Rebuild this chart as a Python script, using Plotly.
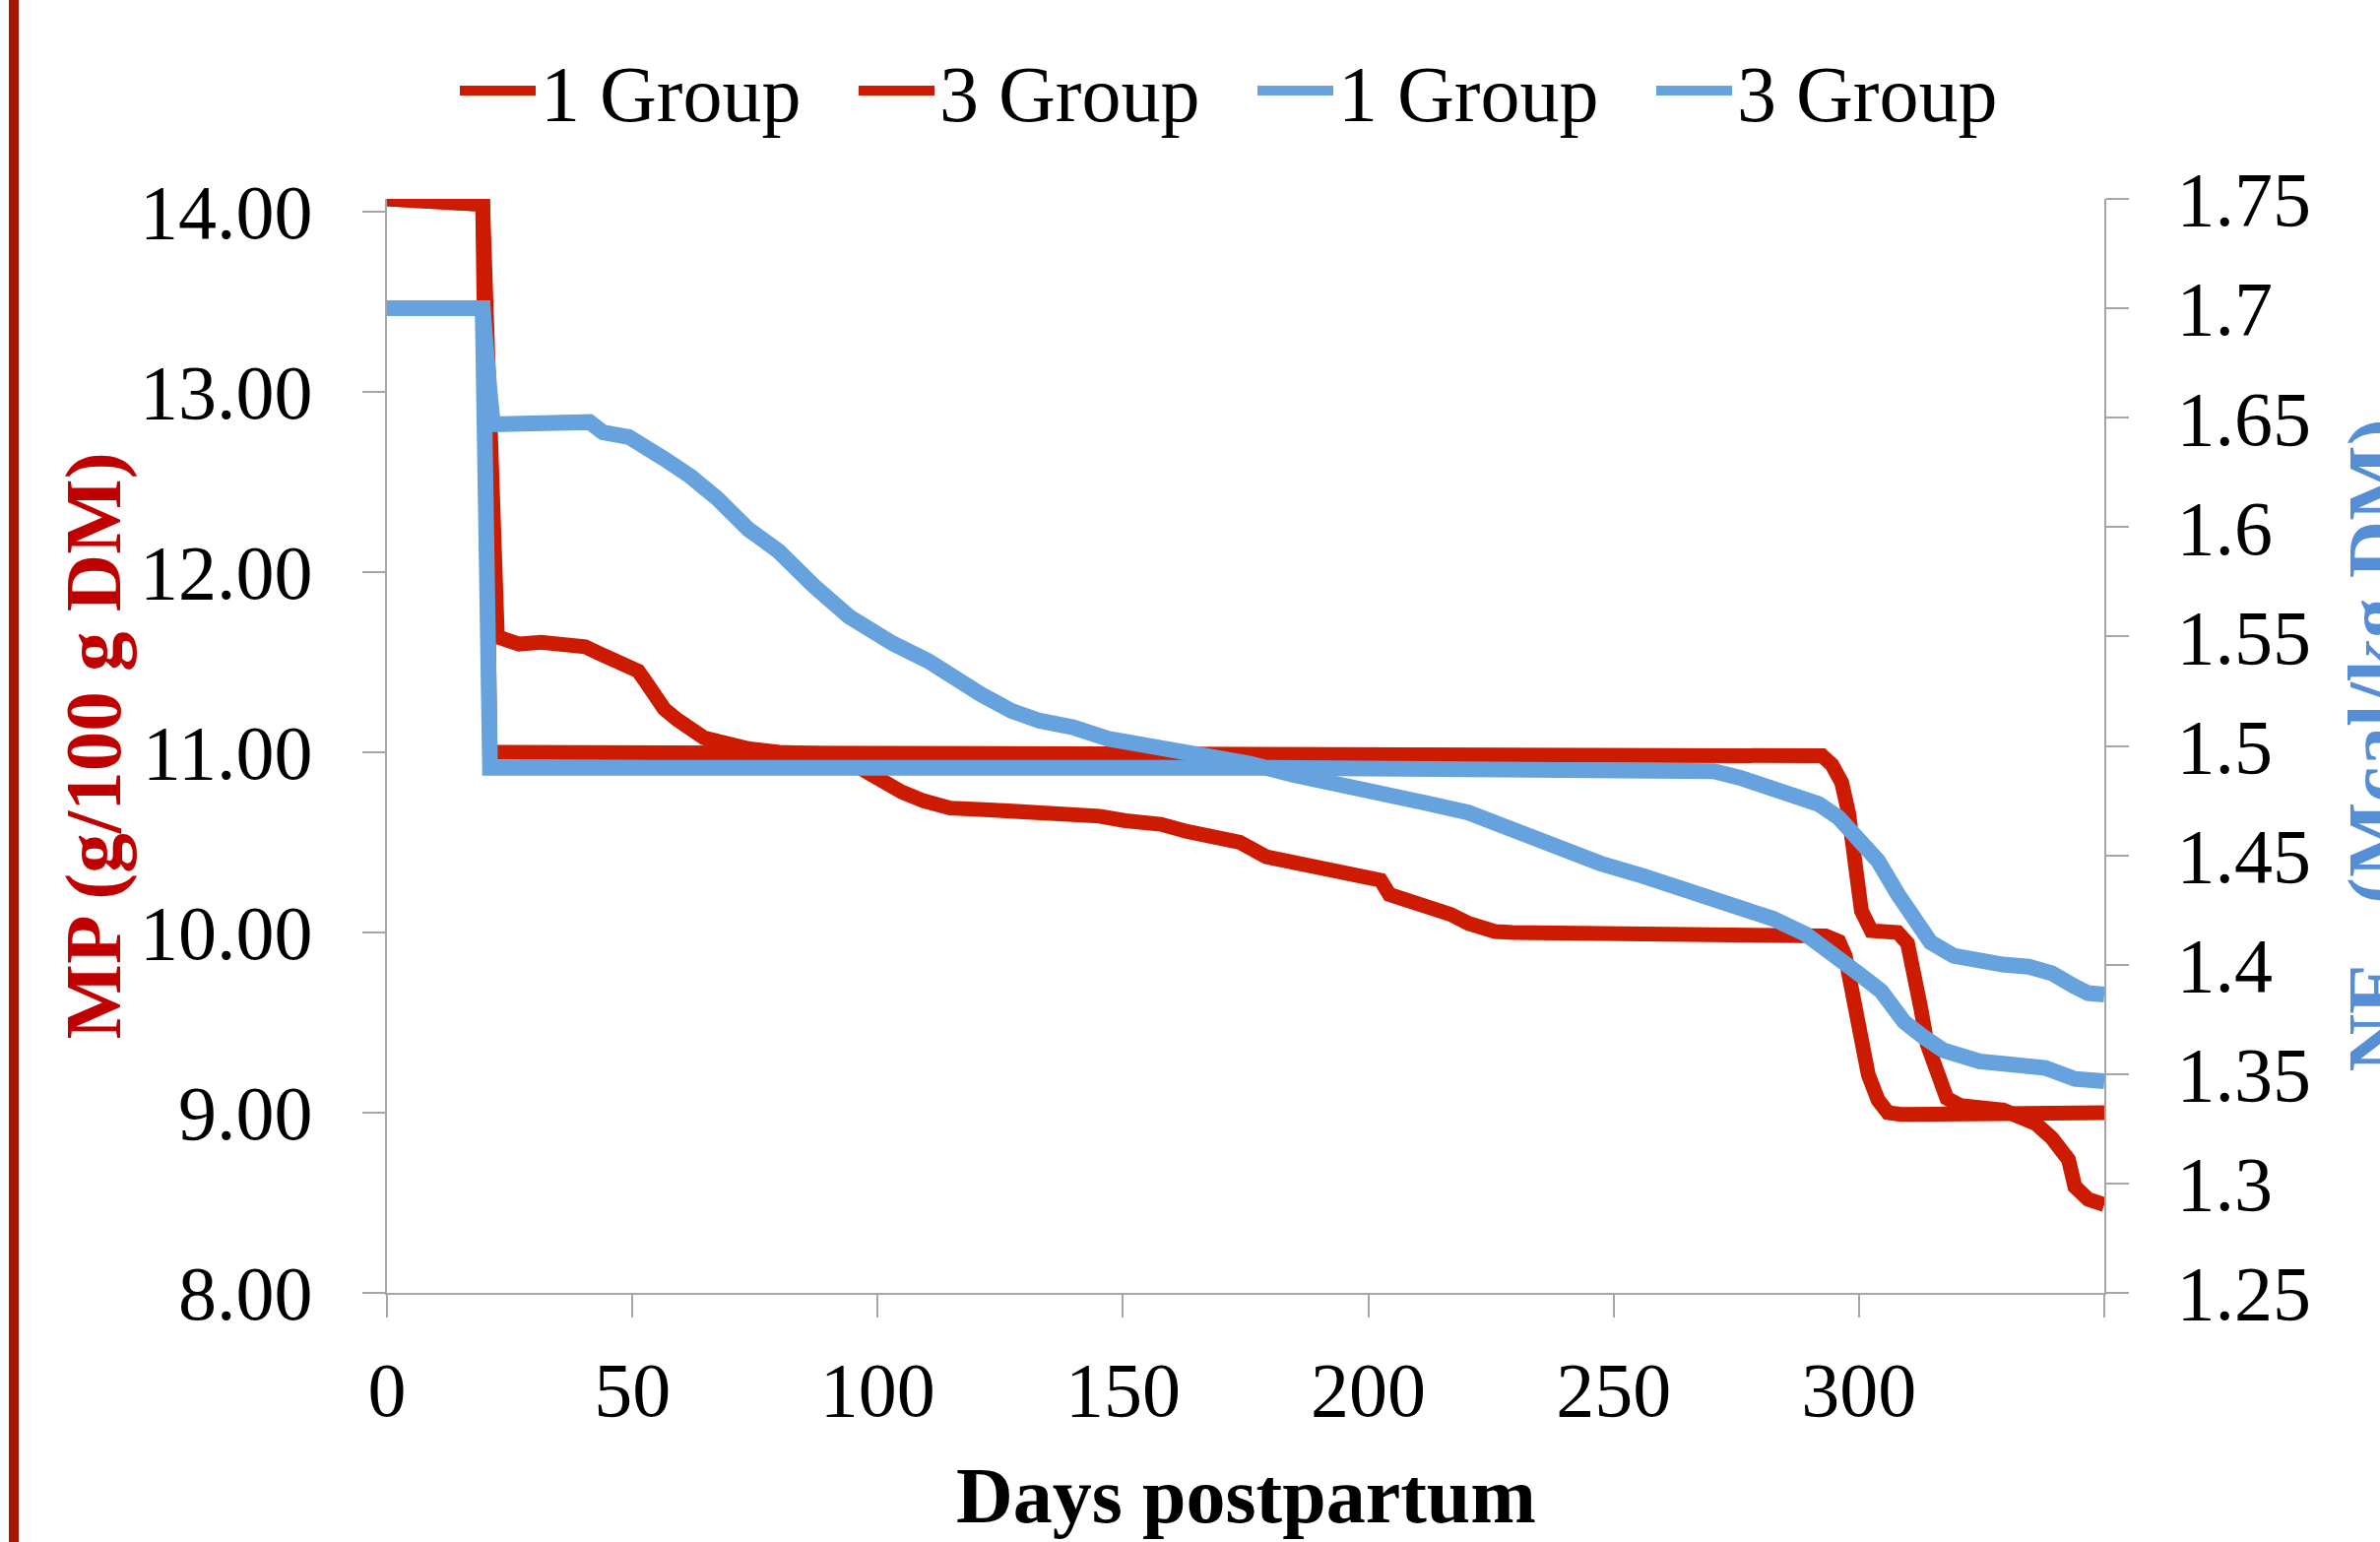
import plotly.graph_objects as go

# ---------------- data ----------------
days_mp_1 = [0, 5, 10, 15, 19.5, 21.0, 40, 80, 120, 160, 200, 240, 280, 290.5, 292.5, 294.5,
             296.5, 297.9, 298.9, 299.5, 300.5, 302.5, 307.9, 309.9, 311.2, 312.6, 313.9, 315.9,
             317.9, 320.6, 329.3, 336.0, 339.3, 342.7, 344.0, 346.7, 350]
mp_1 = [14.07, 14.06, 14.06, 14.05, 14.04, 11.0, 11.0, 11.0, 11.0, 11.0, 11.0, 11.0, 11.0, 11.0,
        10.98, 10.93, 10.83, 10.66, 10.46, 10.27, 10.12, 10.01, 10.0, 9.94, 9.80, 9.58, 9.38, 9.21,
        9.08, 9.04, 9.015, 8.94, 8.86, 8.74, 8.59, 8.52, 8.49]

days_mp_3 = [0, 5, 10, 15, 19.5, 22.5, 26.9, 31.4, 35.9, 40.4, 43.1, 45.8, 48.5, 51.2, 52.9, 54.7,
             56.5, 59.2, 61.9, 64.6, 69.1, 73.6, 80, 90, 95.9, 100.4, 104.9, 109.4, 114.8, 122.8,
             137.9, 145.2, 150.5, 157.7, 163.1, 168.4, 173.8, 179.2, 186.4, 193.5, 198.9, 202.5,
             204.3, 207.9, 211.5, 216.8, 220.4, 225.8, 229.4, 260, 291.2, 293.2, 295.9, 297.2,
             298.2, 299.2, 300.5, 301.9, 303.9, 305.9, 308.6, 330, 350]
mp_3 = [14.07, 14.06, 14.06, 14.05, 14.04, 11.64, 11.60, 11.61, 11.595, 11.585, 11.55, 11.52, 11.48,
        11.45, 11.385, 11.31, 11.24, 11.18, 11.13, 11.08, 11.05, 11.02, 11.0, 10.99, 10.92, 10.84,
        10.78, 10.73, 10.69, 10.68, 10.67, 10.645, 10.62, 10.60, 10.56, 10.535, 10.50, 10.42, 10.38,
        10.34, 10.32, 10.29, 10.21, 10.18, 10.14, 10.10, 10.05, 10.005, 10.0, 10.0, 10.0, 9.98, 9.95,
        9.87, 9.73, 9.56, 9.36, 9.21, 9.07, 9.0, 8.99, 9.0, 9.0]

days_ne_1 = [0, 19.5, 21.0, 60, 100, 140, 180, 220, 262.4, 270.4, 275.8, 281.1, 287.8, 291.8, 295.8,
             299.9, 303.9, 307.9, 310.6, 314.6, 319.3, 324.6, 329.3, 334.6, 339.3, 344.0, 346.7, 350]
ne_1 = [1.70, 1.70, 1.49, 1.4905, 1.4905, 1.490, 1.490, 1.4895, 1.4894, 1.4884, 1.4854, 1.4814,
        1.4774, 1.4734, 1.4673, 1.4583, 1.4474, 1.4323, 1.4222, 1.4102, 1.4041, 1.4011, 1.4001,
        1.3991, 1.3961, 1.3900, 1.3870, 1.3864]

days_ne_3 = [0, 19.5, 21.0, 21.6, 41.3, 44.0, 49.3, 52.9, 56.5, 61.9, 67.3, 73.6, 79.8, 87.0, 94.2,
             103.1, 110.3, 121.1, 127.3, 133, 139.8, 146.9, 155.9, 164.9, 175.6, 184.6, 193.5,
             202.5, 211.5, 220.4, 229.4, 238.4, 247.3, 256.3, 262.4, 269.1, 275.8, 282.5, 289.1,
             294.5, 299.9, 304.5, 309.2, 313.2, 317.2, 324.6, 332.6, 338.0, 344.0, 350]
ne_3 = [1.70, 1.70, 1.66, 1.647, 1.648, 1.6433, 1.6412, 1.6372, 1.6312, 1.6231, 1.6131, 1.5991,
        1.5890, 1.5731, 1.5590, 1.5468, 1.5388, 1.5235, 1.5160, 1.5115, 1.5085, 1.5033, 1.5003,
        1.4973, 1.4920, 1.4868, 1.4830, 1.4793, 1.4740, 1.4695, 1.4613, 1.4530, 1.4463, 1.4403,
        1.4360, 1.4321, 1.4271, 1.4210, 1.4140, 1.4060, 1.3960, 1.3880, 1.3739, 1.3669, 1.3609,
        1.3558, 1.3548, 1.3528, 1.3478, 1.3468]

series_names = ["1 Group", "3 Group", "1 Group", "3 Group"]

x_tickvals = [0, 50, 100, 150, 200, 250, 300, 350]
x_ticktext = ["0", "50", "100", "150", "200", "250", "300", ""]
y1_tickvals = [8, 9, 10, 11, 12, 13, 14]
y1_ticktext = ["8.00", "9.00", "10.00", "11.00", "12.00", "13.00", "14.00"]
y2_tickvals = [1.25, 1.3, 1.35, 1.4, 1.45, 1.5, 1.55, 1.6, 1.65, 1.7, 1.75]
y2_ticktext = ["1.25", "1.3", "1.35", "1.4", "1.45", "1.5", "1.55", "1.6", "1.65", "1.7", "1.75"]

# ---------------- style ----------------
RED = "#CC1B00"
BLUE = "#66A2DD"
GRAY = "#A6A6A6"
FONT = "Liberation Serif"
W, H = 2417, 1566
L, R, T, B = 393, 280, 202, 253
PW = W - L - R
PH = H - T - B


def px_x(p):
    return (p - L) / PW


def px_y(p):
    return (H - B - p) / PH


fig = go.Figure()
fig.add_trace(go.Scatter(x=days_mp_1, y=mp_1, name=series_names[0], mode="lines",
                         line=dict(color=RED, width=15)))
fig.add_trace(go.Scatter(x=days_mp_3, y=mp_3, name=series_names[1], mode="lines",
                         line=dict(color=RED, width=15)))
fig.add_trace(go.Scatter(x=days_ne_1, y=ne_1, name=series_names[2], mode="lines", yaxis="y2",
                         line=dict(color=BLUE, width=16)))
fig.add_trace(go.Scatter(x=days_ne_3, y=ne_3, name=series_names[3], mode="lines", yaxis="y2",
                         line=dict(color=BLUE, width=16)))

axis_common = dict(showgrid=False, zeroline=False, showline=True, linecolor=GRAY, linewidth=2,
                   ticks="outside", ticklen=23, tickwidth=2, tickcolor=GRAY,
                   tickfont=dict(family=FONT, size=78, color="black"))

fig.update_layout(
    width=W, height=H,
    margin=dict(l=L, r=R, t=T, b=B, autoexpand=False),
    paper_bgcolor="white", plot_bgcolor="white",
    xaxis=dict(range=[0, 350], tickmode="array", tickvals=x_tickvals, ticktext=x_ticktext,
               ticklabelstandoff=6, **axis_common),
    yaxis=dict(range=[8, 14.07], tickmode="array", tickvals=y1_tickvals, ticktext=y1_ticktext,
               ticklabelstandoff=35, **axis_common),
    yaxis2=dict(range=[1.25, 1.75], overlaying="y", side="right", tickmode="array",
                tickvals=y2_tickvals, ticktext=y2_ticktext, ticklabelstandoff=33, **axis_common),
    showlegend=True,
    legend=dict(orientation="h", x=px_x(462), xanchor="left", y=px_y(92), yanchor="middle",
                font=dict(family=FONT, size=80, color="black"), itemwidth=77,
                entrywidth=313, bgcolor="rgba(0,0,0,0)"),
    annotations=[
        dict(text="<b>Days postpartum</b>", xref="paper", yref="paper", x=0.5, y=px_y(1519),
             xanchor="center", yanchor="middle", showarrow=False,
             font=dict(family=FONT, size=80, color="black")),
        dict(text="<b>MP (g/100 g DM)</b>", xref="paper", yref="paper", x=px_x(94), y=0.5,
             xanchor="center", yanchor="middle", textangle=-90, showarrow=False,
             font=dict(family=FONT, size=81, color="#C00000")),
        dict(text="<b>NE<sub>L</sub> (Mcal/kg DM)</b>", xref="paper", yref="paper",
             x=px_x(2418), y=0.5, xanchor="center", yanchor="middle", textangle=-90,
             showarrow=False, font=dict(family=FONT, size=81, color="#558ED5")),
    ],
    shapes=[
        dict(type="rect", xref="paper", yref="paper", x0=px_x(9), x1=px_x(19),
             y0=px_y(H + 5), y1=px_y(-5), fillcolor="#A81500", line=dict(width=0)),
    ],
)

fig.write_html("out.html")
